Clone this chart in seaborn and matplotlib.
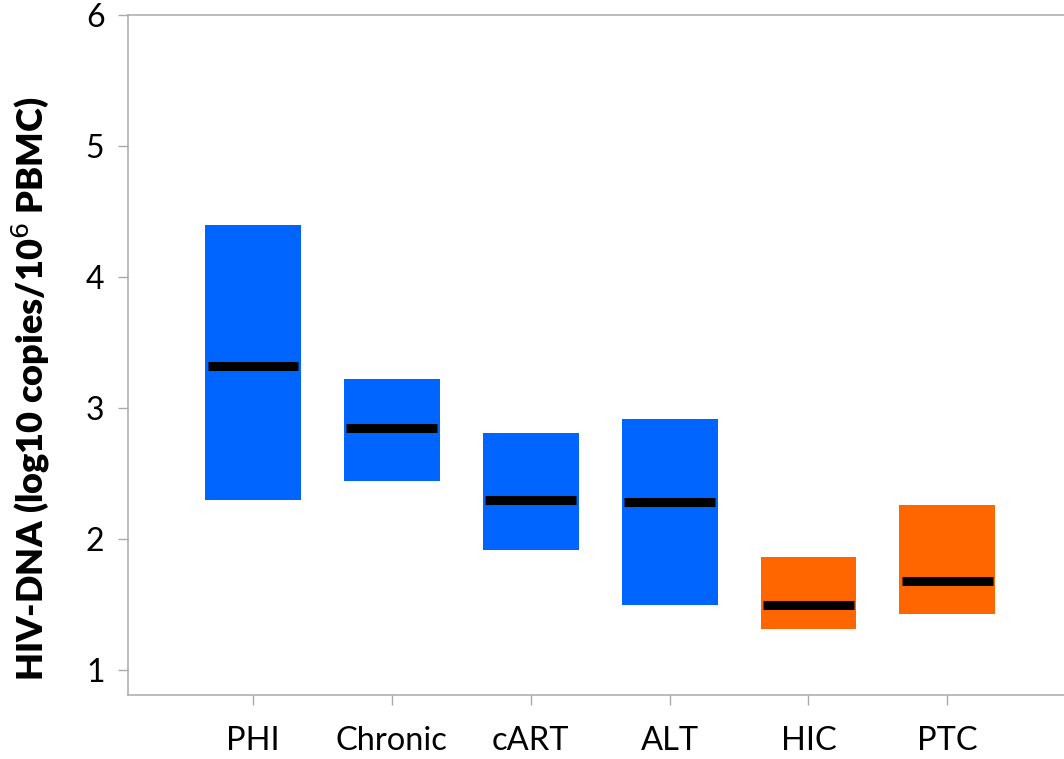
import matplotlib
matplotlib.use("Agg")
import matplotlib.pyplot as plt
import seaborn as sns
import pandas as pd

# HIV-DNA reservoir ranges by patient group (log10 copies / 10^6 PBMC)
groups = ["PHI", "Chronic", "cART", "ALT", "HIC", "PTC"]
range_low = [2.30, 2.44, 1.92, 1.50, 1.31, 1.43]
range_high = [4.40, 3.22, 2.81, 2.92, 1.86, 2.26]
medians = [3.32, 2.85, 2.30, 2.28, 1.50, 1.68]
cohort = ["progressor", "progressor", "progressor", "progressor", "controller", "controller"]

palette = {"progressor": "#0064FF", "controller": "#FF6600"}

df = pd.DataFrame({
    "group": groups,
    "low": range_low,
    "high": range_high,
    "median": medians,
    "cohort": cohort,
})
df["span"] = df["high"] - df["low"]

sns.set_theme(style="white")
plt.rcParams["font.family"] = ["Lato", "DejaVu Sans"]

fig = plt.figure(figsize=(10.64, 7.59), dpi=100)
ax = fig.add_axes([128 / 1064, 64 / 759, 936 / 1064, 680 / 759])

# floating range bars
ax.bar(
    range(len(df)),
    df["span"],
    bottom=df["low"],
    width=0.69,
    color=[palette[c] for c in df["cohort"]],
    edgecolor="none",
    zorder=2,
)

# median markers
ax.hlines(
    df["median"],
    [i - 0.327 for i in range(len(df))],
    [i + 0.327 for i in range(len(df))],
    colors="black",
    linewidth=6.5,
    zorder=3,
)

ax.set_xlim(-0.9, 5.84)
ax.set_ylim(0.81, 6)
ax.set_yticks([1, 2, 3, 4, 5, 6])
ax.set_xticks(range(len(groups)))
ax.set_xticklabels(groups)

for side in ["left", "top", "bottom"]:
    ax.spines[side].set_visible(True)
    ax.spines[side].set_color("#AAAAAA")
    ax.spines[side].set_linewidth(1.1)
ax.spines["right"].set_visible(False)

ax.tick_params(axis="y", which="major", direction="out", length=7, width=1,
               color="#AAAAAA", pad=10, labelsize=23, labelcolor="black", left=True)
ax.tick_params(axis="x", which="major", direction="out", length=7, width=1,
               color="#AAAAAA", pad=15, labelsize=23.5, labelcolor="black", bottom=True)

ax.set_ylabel("HIV-DNA (log10 copies/10$^{6}$ PBMC)", fontsize=26, fontweight="heavy",
              color="black")
ax.yaxis.set_label_coords(-0.081, 0.45)
ax.set_xlabel("")

fig.savefig("out.png", dpi=100)
